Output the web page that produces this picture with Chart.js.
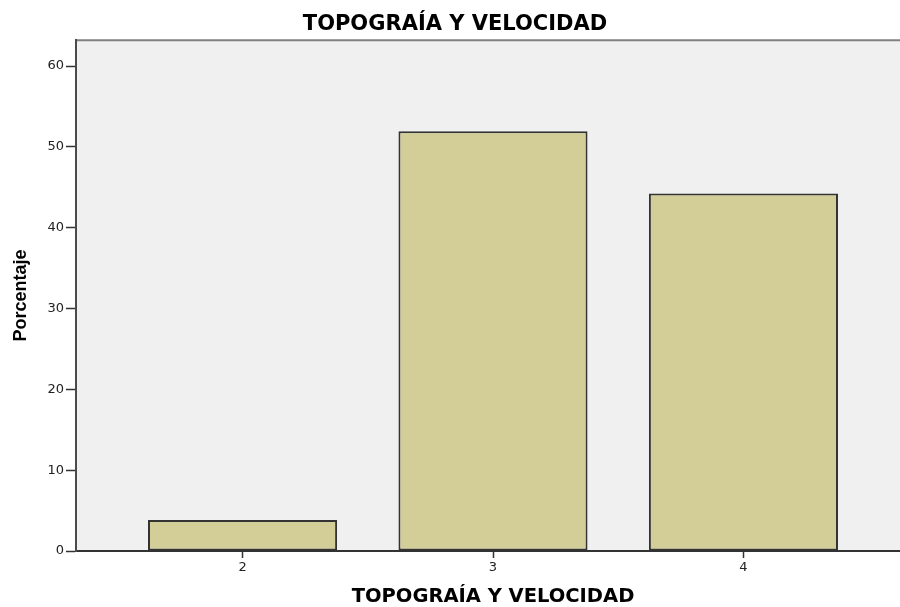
<!DOCTYPE html>
<html>
<head>
<meta charset="utf-8">
<script src="https://cdn.jsdelivr.net/npm/chart.js@4.4.1/dist/chart.umd.min.js"></script>
<style>
  html, body { margin: 0; padding: 0; background: #fff; overflow: hidden; }
  #wrap { width: 910px; height: 607px; }
</style>
</head>
<body>
<div id="wrap"><canvas id="topoChart"></canvas></div>
<script>
// Categories (TOPOGRAÍA Y VELOCIDAD) and percentage per category
const categories = [2, 3, 4];
const percentages = [3.85, 51.92, 44.23];
const yTicks = [0, 10, 20, 30, 40, 50, 60];

const chartTitle = "TOPOGRAÍA Y VELOCIDAD";
const xTitle = "TOPOGRAÍA Y VELOCIDAD";
const yTitle = "Porcentaje";

// Grey plot background + top frame line
const plotFrame = {
  id: "plotFrame",
  beforeDraw(chart) {
    const { ctx, chartArea: a } = chart;
    ctx.save();
    ctx.fillStyle = "#f0f0f0";
    ctx.fillRect(a.left, a.top, a.right - a.left, a.bottom - a.top);
    ctx.strokeStyle = "#808080";
    ctx.lineWidth = 2;
    ctx.beginPath();
    ctx.moveTo(a.left, a.top);
    ctx.lineTo(a.right, a.top);
    ctx.stroke();
    ctx.restore();
  },
};

const ctx = document.getElementById("topoChart").getContext("2d");

new Chart(ctx, {
  type: "bar",
  data: {
    datasets: [
      {
        label: "Porcentaje",
        data: categories.map((c, i) => ({ x: c, y: percentages[i] })),
        backgroundColor: "#d3ce97",
        borderColor: "#333333",
        borderWidth: 2,
        borderSkipped: false,
        barPercentage: 0.755,
        categoryPercentage: 1,
      },
    ],
  },
  plugins: [plotFrame],
  options: {
    responsive: true,
    maintainAspectRatio: false,
    animation: false,
    layout: { padding: 0 },
    scales: {
      x: {
        type: "linear",
        offset: false,
        min: 1.335,
        max: 4.665,
        afterFit: (s) => { s.height = 56; },
        afterBuildTicks: (s) => { s.ticks = categories.map((v) => ({ value: v })); },
        ticks: {
          padding: 2,
          color: "#222",
          font: { family: "DejaVu Sans", size: 13 },
        },
        grid: {
          offset: false,
          drawOnChartArea: false,
          tickLength: 7,
          tickWidth: 1.5,
          tickColor: "#333",
        },
        border: { display: true, color: "#333", width: 2 },
        title: {
          display: true,
          text: xTitle,
          color: "#000",
          font: { family: "DejaVu Sans", size: 19.5, weight: "bold", lineHeight: 1 },
          padding: { top: 0, bottom: 0 },
        },
      },
      y: {
        min: 0,
        max: 63.2,
        afterFit: (s) => { s.width = 76; },
        afterBuildTicks: (s) => { s.ticks = yTicks.map((v) => ({ value: v })); },
        ticks: {
          padding: 2,
          color: "#222",
          font: { family: "DejaVu Sans", size: 13 },
        },
        grid: {
          drawOnChartArea: false,
          tickLength: 10,
          tickWidth: 1.5,
          tickColor: "#333",
        },
        border: { display: true, color: "#4a4a4a", width: 2 },
        title: {
          display: true,
          text: yTitle,
          color: "#000",
          font: { family: "Liberation Sans", size: 18, weight: "bold", lineHeight: 1 },
          padding: { top: 12, bottom: 0 },
        },
      },
    },
    plugins: {
      legend: { display: false },
      tooltip: { enabled: false },
      title: {
        display: true,
        text: chartTitle,
        color: "#000",
        font: { family: "DejaVu Sans", size: 21, weight: "bold", lineHeight: 1.2 },
        padding: { top: 12, bottom: 3 },
      },
    },
  },
});
</script>
</body>
</html>
